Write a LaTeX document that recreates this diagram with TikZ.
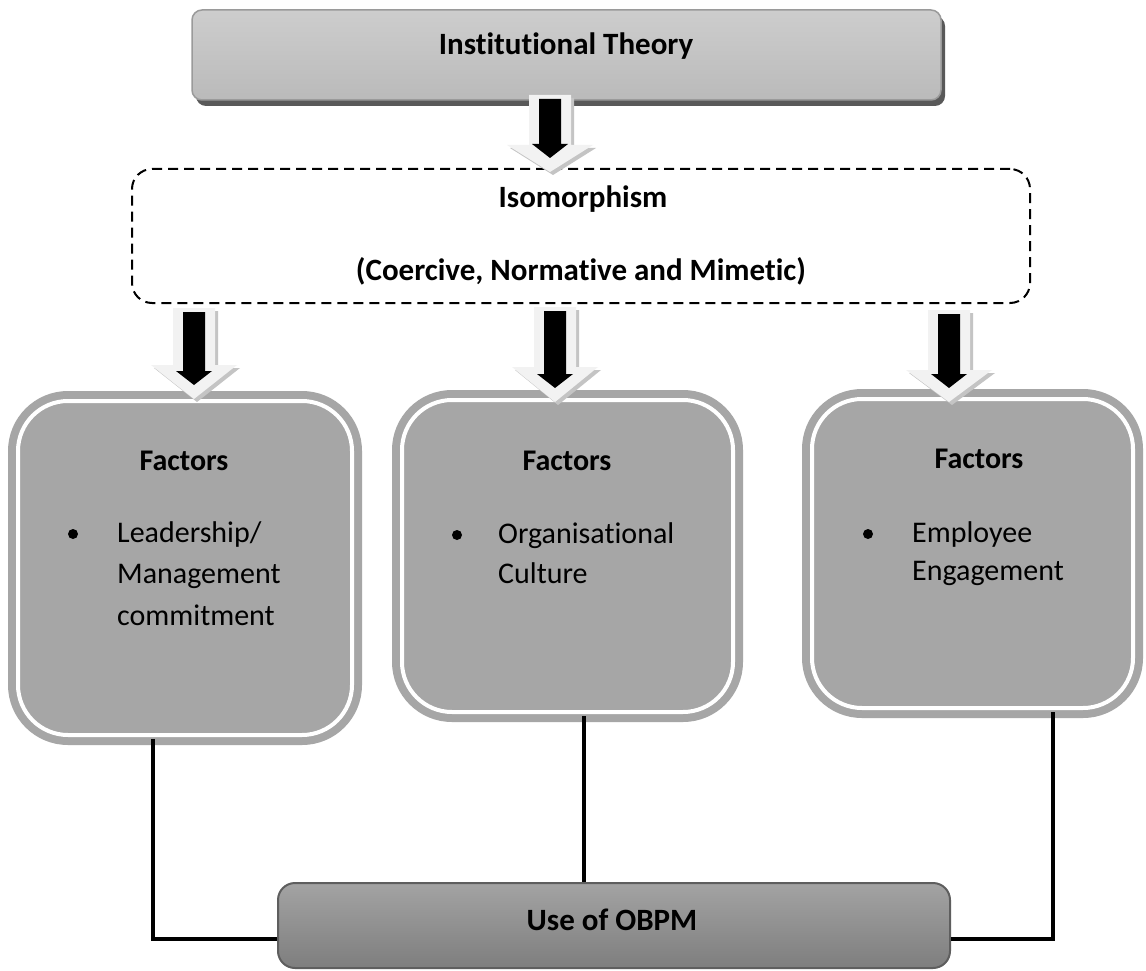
\documentclass[tikz,border=0pt]{standalone}
\usepackage{fontspec}
\setmainfont{Carlito}[RawFeature={-liga,-clig,-dlig,-calt}]
\usetikzlibrary{shadows}

\definecolor{boxgray}{HTML}{A6A6A6}
\definecolor{titletop}{HTML}{CDCDCD}
\definecolor{titlebot}{HTML}{BABABA}
\definecolor{titleedge}{HTML}{9A9A9A}
\definecolor{shadowgray}{HTML}{595959}
\definecolor{usetop}{HTML}{A3A3A3}
\definecolor{usebot}{HTML}{7E7E7E}
\definecolor{useedge}{HTML}{5E5E5E}
\definecolor{arrowlight}{HTML}{F2F2F2}
\definecolor{arrowshade}{HTML}{C4C4C4}

% block arrow pointing down: centre x, shaft top, head top, tip
\newcommand{\blockdown}[4]{%
  \begin{scope}[shift={(#1,0)}]
    \fill[arrowshade] (-18,#2+3) -- (24,#2+3) -- (24,#3+3) -- (46,#3+3) -- (3,#4+3)
      -- (-40,#3+3) -- (-18,#3+3) -- cycle;
    \fill[arrowlight] (-21,#2) -- (21,#2) -- (21,#3) -- (43,#3) -- (0,#4)
      -- (-43,#3) -- (-21,#3) -- cycle;
    \fill[black] (-11,#2+4) -- (11,#2+4) -- (11,#4-28) -- (18,#4-28) -- (0,#4-14)
      -- (-18,#4-28) -- (-11,#4-28) -- cycle;
  \end{scope}}

\begin{document}
\begin{tikzpicture}[x=1pt,y=-1pt,
  titlebox/.style={rectangle, rounded corners=10pt, draw=titleedge, line width=1.5pt,
    top color=titletop, bottom color=titlebot, inner sep=0pt,
    general shadow={fill=shadowgray, shadow xshift=4pt, shadow yshift=-6pt}},
  isobox/.style={rectangle, rounded corners=20pt, draw=black, line width=2pt,
    dash pattern=on 10pt off 6pt, inner sep=0pt},
  factorbox/.style={rectangle, rounded corners=50pt, fill=boxgray, draw=boxgray,
    double=white, double distance=4pt, line width=8pt, inner sep=0pt},
  usebox/.style={rectangle, rounded corners=17pt, draw=useedge, line width=2pt,
    top color=usetop, bottom color=usebot, inner sep=0pt},
  titletext/.style={inner sep=0pt, anchor=base, font=\fontsize{31}{37}\selectfont\bfseries},
  headtext/.style={inner sep=0pt, anchor=base, font=\fontsize{30}{36}\selectfont\bfseries},
  itemtext/.style={inner sep=0pt, anchor=base west, font=\fontsize{30}{36}\selectfont},
  bulletdot/.style={circle, fill=black, minimum size=10pt, inner sep=0pt},
  conn/.style={draw=black, line width=3.5pt}
]
\useasboundingbox (0,0) rectangle (1146,971);
\fill[white] (0,0) rectangle (1146,971);

% boxes
\node[titlebox, minimum width=749pt, minimum height=90pt] (theory) at (566.5,55) {};
\node[titletext] (theorylbl) at (566,55) {Institutional Theory};

\node[isobox, minimum width=898pt, minimum height=134pt] (iso) at (581,236) {};
\node[titletext] (isolbl) at (583,207) {Isomorphism};
\node[titletext] (isotypes) at (581,280) {(Coercive, Normative and Mimetic)};

\node[factorbox, minimum width=334pt, minimum height=334pt] (f1) at (185,568) {};
\node[factorbox, minimum width=331pt, minimum height=312pt] (f2) at (567.5,556) {};
\node[factorbox, minimum width=321pt, minimum height=309pt] (f3) at (972.5,553.5) {};

\node[usebox, minimum width=672pt, minimum height=85pt] (use) at (614,925.5) {};
\node[titletext] (uselbl) at (612,930) {Use of OBPM};

% factor contents
\node[headtext] (h1) at (184,470) {Factors};
\node[bulletdot] (b1) at (73,534) {};
\node[itemtext] (t1a) at (117,542) {Leadership/};
\node[itemtext] (t1b) at (117,583) {Management};
\node[itemtext] (t1c) at (117,625) {commitment};

\node[headtext] (h2) at (567,470) {Factors};
\node[bulletdot] (b2) at (457,535) {};
\node[itemtext] (t2a) at (498,543) {Organisational};
\node[itemtext] (t2b) at (498,583) {Culture};

\node[headtext] (h3) at (979,468) {Factors};
\node[bulletdot] (b3) at (868,534) {};
\node[itemtext] (t3a) at (912,542) {Employee};
\node[itemtext] (t3b) at (912,580) {Engagement};

% block arrows
\blockdown{550}{95}{145}{172}
\blockdown{194}{308}{365}{399}
\blockdown{555}{307}{367}{402}
\blockdown{949}{310}{370}{402}

% connectors to the outcome box
\draw[conn] ([xshift=-32pt]f1.south) |- ([yshift=-13.5pt]use.west);
\draw[conn] ([xshift=16.5pt]f2.south) -- ([xshift=16.5pt]f2.south |- use.north);
\draw[conn] ([xshift=80.5pt]f3.south) |- ([yshift=-13.5pt]use.east);
\end{tikzpicture}
\end{document}
